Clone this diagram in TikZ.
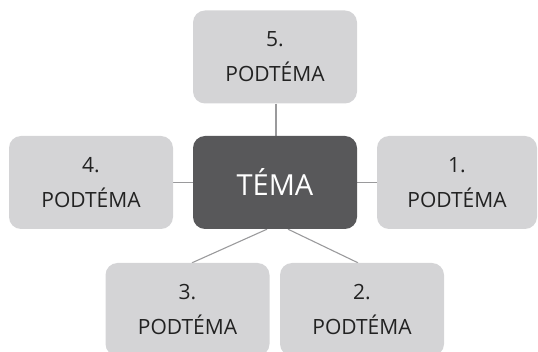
\documentclass[tikz,border=0pt]{standalone}
\usepackage{fontspec}
\setmainfont{Open Sans}
\usetikzlibrary{calc,backgrounds}
\definecolor{boxlight}{HTML}{D4D4D6}
\definecolor{boxdark}{HTML}{58585A}
\definecolor{linegray}{HTML}{9A9A9C}
\definecolor{txt}{HTML}{222222}
\tikzset{
  sub/.style={rectangle, rounded corners=12pt, fill=boxlight, draw=none,
    minimum width=164pt, minimum height=93pt, inner sep=0pt, align=center,
    text=txt, font=\fontsize{21}{35}\selectfont},
  main/.style={rectangle, rounded corners=12pt, fill=boxdark, draw=none,
    minimum width=164pt, minimum height=93pt, inner sep=0pt,
    text=white, font=\fontsize{29}{36}\selectfont},
  conn/.style={draw=linegray, line width=1.1pt}
}
\begin{document}
\begin{tikzpicture}[x=1pt,y=-1pt]
\useasboundingbox (0,0) rectangle (538,352);
\node[main] (c) at (275,182.5) {TÉMA};
\node[sub] (p5) at (275,57) {5.\\PODTÉMA};
\node[sub] (p4) at (91,182.5) {4.\\PODTÉMA};
\node[sub, minimum width=160pt] (p1) at (457,182.5) {1.\\PODTÉMA};
\node[sub] (p3) at (187.5,309.5) {3.\\PODTÉMA};
\node[sub] (p2) at (362,309.5) {2.\\PODTÉMA};
\begin{scope}[on background layer]
\draw[conn] ($(p5.south)+(1,0)$) -- ($(c.north)+(1,0)$);
\draw[conn] (p4.east) -- (c.west);
\draw[conn] (c.east) -- (p1.west);
\draw[conn] ($(c.south)+(-8,0)$) -- ($(p3.north)+(4.5,0)$);
\draw[conn] ($(c.south)+(13,0)$) -- ($(p2.north)+(-4,0)$);
\end{scope}
\end{tikzpicture}
\end{document}
